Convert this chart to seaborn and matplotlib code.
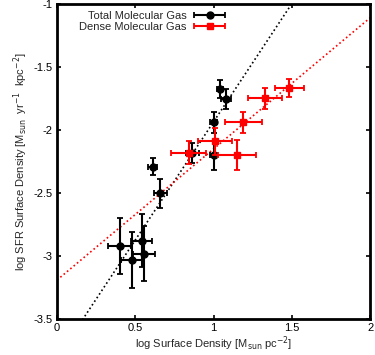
import matplotlib.pyplot as plt
import numpy as np
import pandas as pd
import seaborn as sns
from matplotlib.legend_handler import HandlerErrorbar

# total molecular gas (black circles)
total_x = [1.04, 1.08, 1.00, 1.00, 0.865, 0.61, 0.66, 0.40, 0.54, 0.555, 0.48]
total_y = [-1.675, -1.755, -1.94, -2.20, -2.18, -2.29, -2.50, -2.92, -2.88, -2.98, -3.03]
total_xerr = [0.02, 0.03, 0.02, 0.02, 0.04, 0.03, 0.04, 0.075, 0.065, 0.07, 0.07]
total_yerr = [0.075, 0.08, 0.08, 0.115, 0.08, 0.07, 0.115, 0.22, 0.21, 0.215, 0.22]

# dense molecular gas (red squares)
dense_x = [1.485, 1.33, 1.19, 1.01, 0.84, 1.15]
dense_y = [-1.667, -1.75, -1.94, -2.09, -2.18, -2.20]
dense_xerr = [0.095, 0.11, 0.12, 0.11, 0.11, 0.12]
dense_yerr = [0.07, 0.08, 0.08, 0.105, 0.09, 0.12]

# fitted relations (slope, intercept)
total_fit = (1.875, -3.81)
dense_fit = (1.04, -3.19)

x_ticks = [0, 0.5, 1, 1.5, 2]
y_ticks = [-3.5, -3, -2.5, -2, -1.5, -1]

sns.set_style("ticks")
plt.rcParams["font.family"] = ["Liberation Sans", "DejaVu Sans"]

fig = plt.figure(figsize=(3.75, 3.55), dpi=100)
ax = fig.add_axes([0.152, 0.101, 0.835, 0.888])

xx = np.linspace(0, 2, 200)
for (m, b), col in [(total_fit, "black"), (dense_fit, "red")]:
    sns.lineplot(x=xx, y=m * xx + b, ax=ax, color=col, linestyle=(0, (1, 1.6)),
                 linewidth=1.2, legend=False)

err_kw = dict(ms=5, elinewidth=1.5, capsize=2, capthick=1.3)
ax.errorbar(total_x, total_y, xerr=total_xerr, yerr=total_yerr, fmt="o",
            color="black", zorder=3, **err_kw)
ax.errorbar(dense_x, dense_y, xerr=dense_xerr, yerr=dense_yerr, fmt="s",
            color="red", zorder=4, **err_kw)

# legend proxies: horizontal error bar only, like the gnuplot key
h1 = ax.errorbar([np.nan], [np.nan], xerr=[1], fmt="o", color="black",
                 label="Total Molecular Gas", **err_kw)
h2 = ax.errorbar([np.nan], [np.nan], xerr=[1], fmt="s", color="red",
                 label="Dense Molecular Gas", **err_kw)

ax.set_xlim(0, 2)
ax.set_ylim(-3.5, -1)
ax.set_xticks(x_ticks)
ax.set_xticklabels([f"{t:g}" for t in x_ticks])
ax.set_yticks(y_ticks)
ax.set_yticklabels([f"{t:g}" for t in y_ticks])
ax.tick_params(direction="in", length=3, width=1.2, labelsize=8, top=True, right=True,
               color="black", labelcolor="black", pad=3)
for s in ax.spines.values():
    s.set_linewidth(2)
    s.set_color("black")

ax.set_xlabel(r"log Surface Density [M$_{\rm sun}$ pc$^{-2}$]", fontsize=8, labelpad=1)
ax.set_ylabel(r"log SFR Surface Density [M$_{\rm sun}$  yr$^{-1}$  kpc$^{-2}$]", fontsize=8,
              labelpad=3)

ax.legend(handles=[h1, h2], loc="upper right", bbox_to_anchor=(0.56, 1.0),
          markerfirst=False, frameon=False, fontsize=8, handlelength=2.9,
          handletextpad=0.6, labelspacing=0.1, borderaxespad=0.0, borderpad=0.6,
          handler_map={h1: HandlerErrorbar(xerr_size=1.4),
                       h2: HandlerErrorbar(xerr_size=1.4)})

fig.savefig("out.png", dpi=100)
